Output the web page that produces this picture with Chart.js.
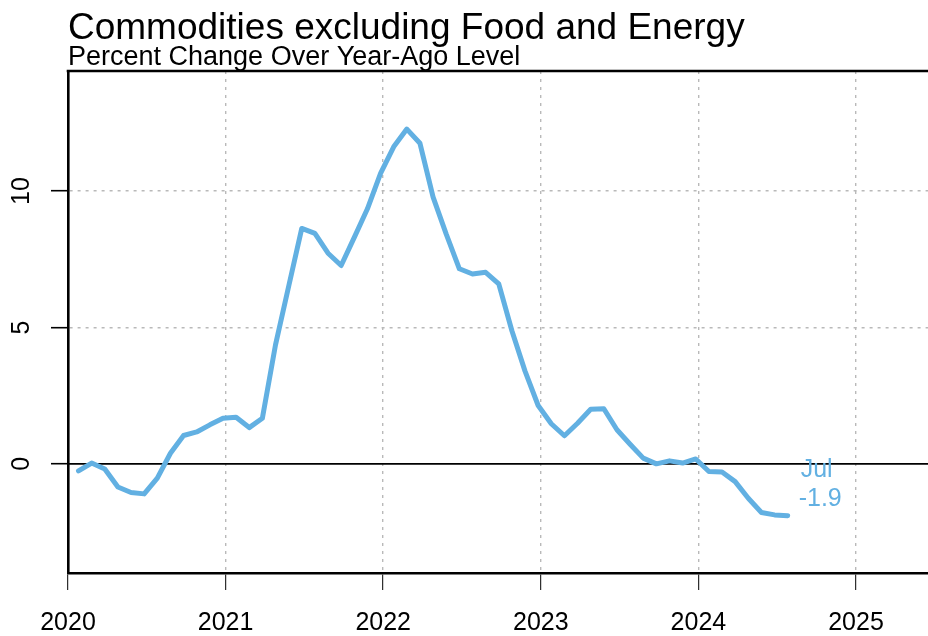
<!DOCTYPE html>
<html>
<head>
<meta charset="utf-8">
<script src="https://cdn.jsdelivr.net/npm/chart.js@4"></script>
<style>
  html, body { margin: 0; padding: 0; background: #fff; }
  #wrap { width: 928px; height: 636px; }
</style>
</head>
<body>
<div id="wrap"><canvas id="chart" width="928" height="636"></canvas></div>
<script>
// monthly % change over year-ago level, Jan 2020 .. Jul 2024
const startYear = 2020;
const values = [
  -0.26, 0.03, -0.19, -0.85, -1.05, -1.1, -0.52, 0.39, 1.04, 1.17, 1.43, 1.67, // 2020
  1.71, 1.33, 1.67, 4.36, 6.5, 8.63, 8.45, 7.72, 7.27, 8.3, 9.35, 10.65,       // 2021
  11.62, 12.27, 11.75, 9.78, 8.42, 7.15, 6.96, 7.02, 6.6, 4.88, 3.4, 2.14,     // 2022
  1.47, 1.03, 1.49, 2.0, 2.02, 1.25, 0.72, 0.21, 0.0, 0.11, 0.03, 0.18,         // 2023
  -0.28, -0.3, -0.65, -1.26, -1.78, -1.87, -1.9                                 // 2024
];
const monthNames = ["Jan", "Feb", "Mar", "Apr", "May", "Jun", "Jul", "Aug", "Sep", "Oct", "Nov", "Dec"];
const xTicks = [2020, 2021, 2022, 2023, 2024, 2025];
const yTicks = [0, 5, 10];

const blue = "#62b0e2";
const font = "'Liberation Sans', Arial, sans-serif";

const points = values.map((v, i) => ({
  x: startYear + Math.floor(i / 12) + ((i % 12) + 0.8) / 12,
  y: v,
}));

const decor = {
  id: "decor",
  beforeDatasetsDraw(chart) {
    const ctx = chart.ctx;
    const a = chart.chartArea;
    const y0 = chart.scales.y.getPixelForValue(0);
    ctx.save();
    ctx.strokeStyle = "#000";
    ctx.lineWidth = 1.6;
    ctx.beginPath();
    ctx.moveTo(a.left, y0);
    ctx.lineTo(a.right, y0);
    ctx.stroke();
    // top edge of the box
    ctx.lineWidth = 2.6;
    ctx.beginPath();
    ctx.moveTo(a.left - 1.3, a.top);
    ctx.lineTo(a.right, a.top);
    ctx.stroke();
    ctx.restore();
  },
  afterDraw(chart) {
    const ctx = chart.ctx;
    const a = chart.chartArea;
    ctx.save();
    ctx.fillStyle = "#000";
    ctx.textBaseline = "alphabetic";
    ctx.textAlign = "left";
    ctx.font = "37px " + font;
    ctx.fillText("Commodities excluding Food and Energy", a.left, 38.5);
    ctx.font = "27px " + font;
    ctx.fillText("Percent Change Over Year-Ago Level", a.left, 64.5);

    // last value label
    const last = points[points.length - 1];
    const px = chart.scales.x.getPixelForValue(last.x);
    const py = chart.scales.y.getPixelForValue(last.y);
    ctx.fillStyle = blue;
    ctx.font = "25px " + font;
    ctx.textBaseline = "middle";
    ctx.fillText(monthNames[(values.length - 1) % 12], px + 13, py - 46);
    ctx.fillText(last.y.toFixed(1), px + 11, py - 17);
    ctx.restore();
  },
};

Chart.defaults.font.family = font;
Chart.defaults.color = "#000";

new Chart(document.getElementById("chart").getContext("2d"), {
  type: "line",
  data: {
    datasets: [
      {
        data: points,
        borderColor: blue,
        borderWidth: 5,
        borderCapStyle: "round",
        borderJoinStyle: "round",
        pointRadius: 0,
        tension: 0,
      },
    ],
  },
  options: {
    responsive: false,
    animation: false,
    layout: { padding: { top: 71, left: 0, right: 0, bottom: 0 } },
    plugins: { legend: { display: false }, tooltip: { enabled: false } },
    scales: {
      x: {
        type: "linear",
        min: 2020,
        max: 2025.457,
        afterBuildTicks: (s) => { s.ticks = xTicks.map((v) => ({ value: v })); },
        afterFit: (s) => { s.height = 63; },
        ticks: {
          font: { size: 25 },
          padding: 18,
          maxRotation: 0,
          callback: (v) => String(v),
        },
        grid: {
          color: (c) => (c.tick && c.tick.value === 2020 ? "rgba(0,0,0,0)" : "#b9b9b9"),
          lineWidth: 1.4,
          tickColor: "#000",
          tickWidth: 1,
          tickLength: 17,
          tickBorderDash: [],
        },
        border: { color: "#000", width: 2.6, dash: [3, 5] },
      },
      y: {
        min: -4,
        max: 14.4,
        afterBuildTicks: (s) => { s.ticks = yTicks.map((v) => ({ value: v })); },
        afterFit: (s) => { s.width = 68; },
        ticks: {
          font: { size: 25 },
          padding: 15,
          minRotation: 90,
          maxRotation: 90,
          crossAlign: "center",
          callback: (v) => String(v),
        },
        grid: {
          color: (c) => (c.tick && c.tick.value === 0 ? "rgba(0,0,0,0)" : "#b9b9b9"),
          lineWidth: 1.4,
          tickColor: "#000",
          tickWidth: 1.6,
          tickLength: 17,
          tickBorderDash: [],
        },
        border: { color: "#000", width: 2.6, dash: [3, 5] },
      },
    },
  },
  plugins: [decor],
});
</script>
</body>
</html>
